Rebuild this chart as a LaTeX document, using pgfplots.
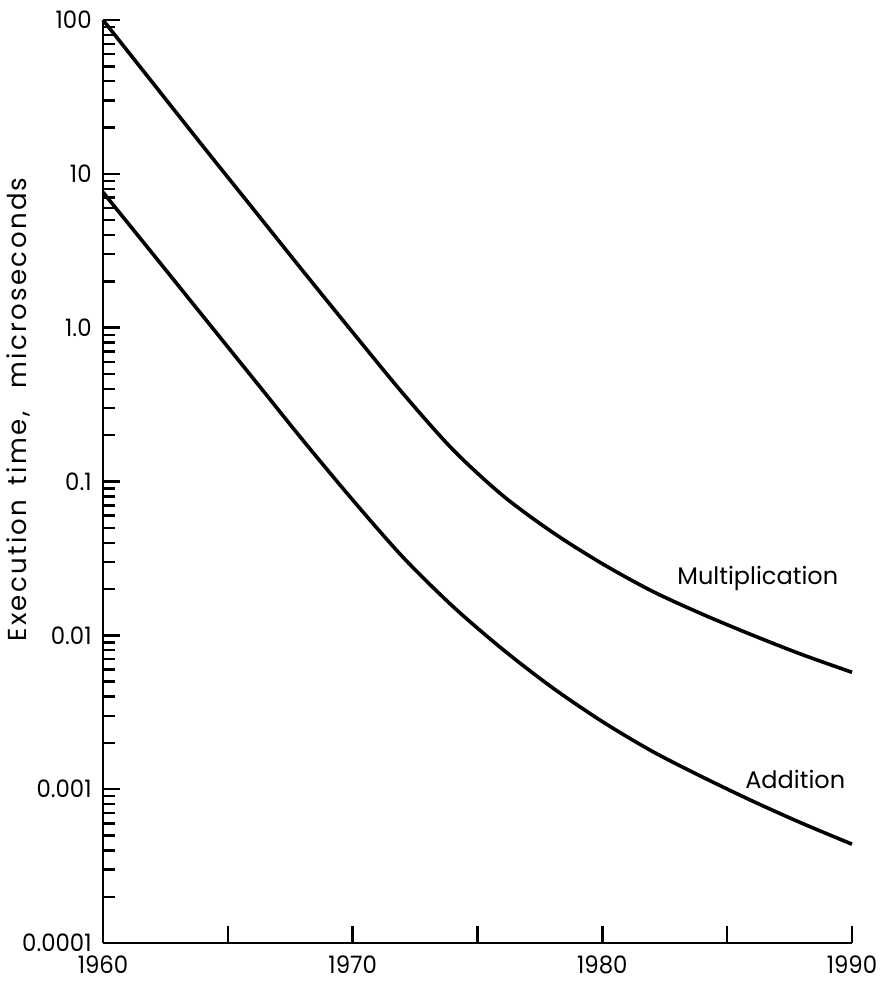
\documentclass[border=0pt]{standalone}
\usepackage{fontspec}
\setmainfont{Poppins}
\newfontfamily\tickfam[FakeStretch=0.95]{Poppins}
\newfontfamily\ylabfam[LetterSpace=9]{Poppins}
\usepackage{pgfplots}
\pgfplotsset{compat=1.18}
\newcommand{\lblfont}{\fontsize{12}{14}\selectfont}
\newcommand{\tickfont}{\tickfam\fontsize{12}{14}\selectfont}
\newcommand{\ylabfont}{\ylabfam\fontsize{13}{15}\selectfont}
\begin{document}
\begin{tikzpicture}
\path[use as bounding box] (-51.5pt,-20pt) rectangle (394pt,471.5pt);
\begin{axis}[
  at={(0pt,0pt)}, anchor=south west,
  scale only axis, width=374.5pt, height=461.5pt,
  ymode=log, xmin=1960, xmax=1990, ymin=1e-4, ymax=100,
  axis lines=left, axis line style={-, line width=1.4pt},
  tick align=inside,
  every tick/.style={black, line width=1.2pt},
  major tick length=8.5pt, minor tick length=6pt,
  xtick={1960,1965,1970,1975,1980,1985,1990},
  xticklabels={1960,,1970,,1980,,1990},
  ytick={1e-4,1e-3,0.01,0.1,1,10,100},
  yticklabels={0.0001,0.001,0.01,0.1,1.0,10,100},
  minor ytick={2e-4,3e-4,4e-4,5e-4,6e-4,7e-4,8e-4,9e-4,
    2e-3,3e-3,4e-3,5e-3,6e-3,7e-3,8e-3,9e-3,
    0.02,0.03,0.04,0.05,0.06,0.07,0.08,0.09,
    0.2,0.3,0.4,0.5,0.6,0.7,0.8,0.9,
    2,3,4,5,6,7,8,9,
    20,30,40,50,60,70,80,90},
  xticklabel style={font=\tickfont, inner sep=0pt, anchor=north, yshift=-6pt},
  yticklabel style={font=\tickfont, inner sep=0pt, anchor=east, xshift=-5.5pt},
  ylabel={Execution\hspace{0.55em}time,\hspace{0.9em}microseconds},
  ylabel style={font=\ylabfont, at={(axis description cs:-0.1135,0.578)}, anchor=center, rotate=0},
  clip=false,
]
\addplot[black, line width=1.8pt, smooth] coordinates {
 (1960,100) (1962,38.9) (1964,15.14) (1966,5.96) (1968,2.344) (1970,0.933)
 (1972,0.376) (1974,0.162) (1976,0.0813) (1978,0.0468) (1980,0.0292)
 (1982,0.01936) (1984,0.01374) (1986,0.01005) (1988,0.0075) (1990,0.00575)
};
\addplot[black, line width=1.8pt, smooth] coordinates {
 (1960,7.59) (1962,3.01) (1964,1.19) (1966,0.471) (1968,0.186) (1970,0.0759)
 (1972,0.0324) (1974,0.01549) (1976,0.00813) (1978,0.00457) (1980,0.00275)
 (1982,0.001762) (1984,0.001202) (1986,0.000839) (1988,0.000600) (1990,0.000439)
};
\node[font=\lblfont, anchor=west, inner sep=0pt] at (axis cs:1982.99,0.0235) {Multiplication};
\node[font=\lblfont, anchor=west, inner sep=0pt] at (axis cs:1985.71,0.00115) {Addition};
\end{axis}
\end{tikzpicture}
\end{document}
